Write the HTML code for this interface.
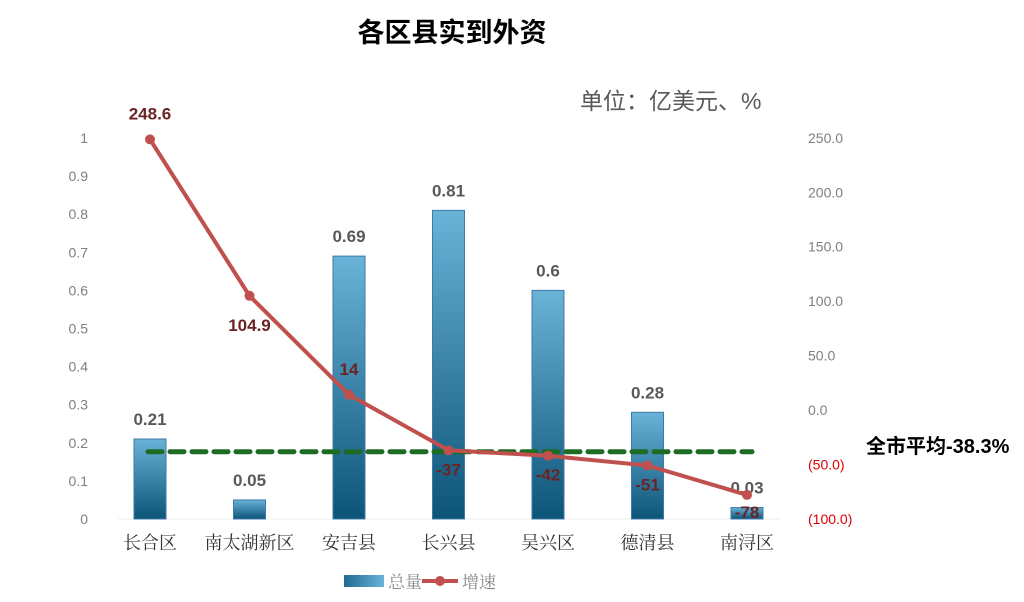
<!DOCTYPE html>
<html><head><meta charset="utf-8">
<style>
body{margin:0;background:#fff;}
svg text{font-family:"Liberation Sans","Noto Sans CJK SC",sans-serif;}
svg text.serif{font-family:"Liberation Serif","Noto Serif CJK SC",serif;}
</style></head>
<body>
<svg id="c" width="1024" height="597" xmlns="http://www.w3.org/2000/svg">
<defs>
<linearGradient id="bg" x1="0" y1="0" x2="0" y2="1">
<stop offset="0" stop-color="#6ab3d8"/><stop offset="1" stop-color="#0c5478"/>
</linearGradient>
<linearGradient id="lg" x1="0" y1="0" x2="1" y2="0">
<stop offset="0" stop-color="#1e6a92"/><stop offset="1" stop-color="#6ab3d8"/>
</linearGradient>
</defs>
<text x="452" y="42" font-size="27" font-weight="bold" text-anchor="middle" fill="#000">各区县实到外资</text>
<text x="580" y="109" font-size="23" fill="#595959">单位：亿美元、%</text>
<g id="g"></g>
<text x="866" y="453" font-size="20" font-weight="bold" fill="#000">全市平均-38.3%</text>
<rect x="344" y="575" width="40" height="12" fill="url(#lg)"/>
<text class="serif" x="388" y="588" font-size="17" fill="#888">总量</text>
<line x1="422" y1="581" x2="458" y2="581" stroke="#c0504d" stroke-width="4"/>
<circle cx="440" cy="581" r="5" fill="#c0504d"/>
<text class="serif" x="462" y="588" font-size="17" fill="#888">增速</text>
</svg>
<script>
const categories=["长合区","南太湖新区","安吉县","长兴县","吴兴区","德清县","南浔区"];
const totals=[0.21,0.05,0.69,0.81,0.6,0.28,0.03];
const growth=[248.6,104.9,14,-37,-42,-51,-78];
const average=-38.3;
const leftTicks=[0,0.1,0.2,0.3,0.4,0.5,0.6,0.7,0.8,0.9,1];
const rightTicks=[-100,-50,0,50,100,150,200,250];
const growthLabelsBelow=[false,true,false,true,true,true,true];

const NS="http://www.w3.org/2000/svg";
const g=document.getElementById('g');
const yL=v=>519-v*381;
const yR=v=>410-v*(381/350);
const xC=i=>150+i*99.5;
function el(t,a,txt){const e=document.createElementNS(NS,t);for(const k in a)e.setAttribute(k,a[k]);if(txt!=null)e.textContent=txt;g.appendChild(e);return e;}

const base=el('line',{x1:118,y1:519,x2:780,y2:519,stroke:'#eee','stroke-width':1});



leftTicks.forEach(v=>{
  const t=el('text',{x:88,y:yL(v)+5,'font-size':14,fill:'#7f7f7f','text-anchor':'end'},String(v));
  
  
});
rightTicks.forEach(v=>{
  const s=v<0?'('+Math.abs(v).toFixed(1)+')':v.toFixed(1);
  const t=el('text',{x:808,y:yR(v)+5,'font-size':14,fill:v<0?'#e00000':'#7f7f7f'},s);
  
  
});
categories.forEach((c,i)=>{
  const t=el('text',{x:xC(i),y:549,'font-size':18,fill:'#333','text-anchor':'middle','class':'serif'},c);
  
  
});
totals.forEach((v,i)=>{
  const r=el('rect',{x:xC(i)-16,y:yL(v),width:32,height:519-yL(v),fill:'url(#bg)',stroke:'#3e7aa8','stroke-width':1});
  
  
  const t=el('text',{x:xC(i),y:yL(v)-14,'font-size':17,'font-weight':'bold',fill:'#595959','text-anchor':'middle'},String(v));
  
  
});
const avg=el('line',{x1:148,y1:yR(average),x2:752,y2:yR(average),stroke:'#1e6b24','stroke-width':5,'stroke-dasharray':'14 8','stroke-linecap':'round'});


const pl=el('polyline',{points:growth.map((v,i)=>xC(i)+','+yR(v)).join(' '),fill:'none',stroke:'#c0504d','stroke-width':4});


growth.forEach((v,i)=>{
  const c=el('circle',{cx:xC(i),cy:yR(v),r:5,fill:'#c0504d'});
  
  
  const y=growthLabelsBelow[i]?yR(v)+(i==1?35:25):yR(v)-20;
  const yy=i==6?yR(v)+23:y;
  const t=el('text',{x:xC(i),y:yy,'font-size':17,'font-weight':'bold',fill:'#6b2424','text-anchor':'middle'},String(v));
  
  
});
</script>
</body></html>
